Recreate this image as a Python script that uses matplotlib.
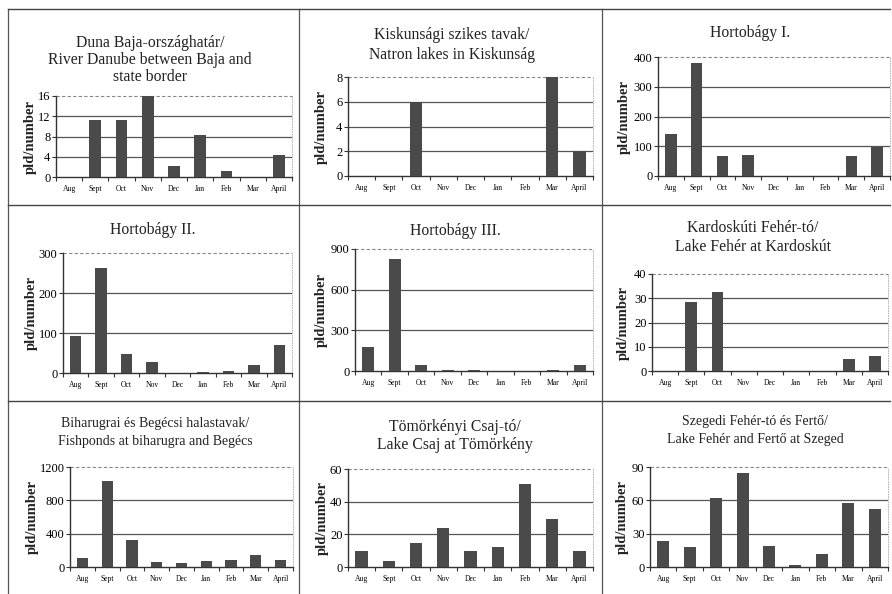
import matplotlib
matplotlib.use("Agg")
import matplotlib.pyplot as plt
from matplotlib.lines import Line2D

plt.rcParams['font.family'] = ['Liberation Serif', 'DejaVu Serif']

months = ["Aug", "Sept", "Oct", "Nov", "Dec", "Jan", "Feb", "Mar", "April"]

titles = [
    "Duna Baja-országhatár/\nRiver Danube between Baja and\nstate border",
    "Kiskunsági szikes tavak/\nNatron lakes in Kiskunság",
    "Hortobágy I.",
    "Hortobágy II.",
    "Hortobágy III.",
    "Kardoskúti Fehér-tó/\nLake Fehér at Kardoskút",
    "Biharugrai és Begécsi halastavak/\nFishponds at biharugra and Begécs",
    "Tömörkényi Csaj-tó/\nLake Csaj at Tömörkény",
    "Szegedi Fehér-tó és Fertő/\nLake Fehér and Fertő at Szeged",
]

duna = [0, 11.2, 11.2, 16, 2.2, 8.2, 1.2, 0, 4.3]
kiskunsag = [0, 0, 6, 0, 0, 0, 0, 8, 2]
hortobagy1 = [140, 380, 67, 72, 0, 0, 0, 67, 97]
hortobagy2 = [93, 263, 48, 28, 0, 3, 6, 20, 70]
hortobagy3 = [175, 825, 45, 8, 5, 2, 2, 10, 42]
kardoskut = [0, 28.5, 32.5, 0, 0, 0, 0, 5, 6]
biharugra = [110, 1030, 330, 60, 50, 70, 85, 150, 80]
tomorkeny = [9.5, 3.5, 15, 24, 10, 12.5, 51, 29.5, 10]
szeged = [23, 18, 62, 85, 19, 2, 12, 58, 52]

series = [duna, kiskunsag, hortobagy1, hortobagy2, hortobagy3,
          kardoskut, biharugra, tomorkeny, szeged]

yticks = [
    [0, 4, 8, 12, 16],
    [0, 2, 4, 6, 8],
    [0, 100, 200, 300, 400],
    [0, 100, 200, 300],
    [0, 300, 600, 900],
    [0, 10, 20, 30, 40],
    [0, 400, 800, 1200],
    [0, 20, 40, 60],
    [0, 30, 60, 90],
]

# layout in pixels: (left, right, top, bottom) of plot area
boxes = [
    (56, 292, 96, 177),
    (348, 593, 77, 176),
    (658, 890, 57, 176),
    (63, 292, 253, 373),
    (355, 593, 249, 371),
    (652, 888, 274, 371),
    (70, 293, 467, 567),
    (348, 593, 469, 567),
    (650, 888, 467, 567),
]
title_pos = [
    (150, [43, 60, 77], 11.3),
    (452, [35, 55], 11.3),
    (750, [33], 11.3),
    (153, [230], 11.3),
    (455, [231], 11.3),
    (753, [228, 247], 11.3),
    (155, [424, 441], 10),
    (455, [427, 445], 11.3),
    (755, [422, 440], 10),
]
ylab_x = [30, 321, 624, 31, 321, 623, 32, 322, 622]

W, H = 892, 594
fig = plt.figure(figsize=(W / 100, H / 100), dpi=100)
fig.patch.set_facecolor('white')

bar_color = '#4a4a4a'

for i in range(9):
    l, r, t, b = boxes[i]
    ax = fig.add_axes([l / W, 1 - b / H, (r - l) / W, (b - t) / H])
    vals = series[i]
    x = list(range(len(months)))
    ax.bar(x, vals, width=0.45, color=bar_color, zorder=3)
    ax.set_xlim(-0.5, len(months) - 0.5)
    ax.set_ylim(0, yticks[i][-1])
    ax.set_yticks(yticks[i])
    ax.set_yticklabels([str(v) for v in yticks[i]], fontsize=9)
    ax.set_xticks(x)
    ax.set_xticklabels(months, fontsize=5.5)
    ax.set_xticks([k + 0.5 for k in range(-1, len(months))], minor=True)
    ax.tick_params(axis='x', which='major', length=0, pad=6)
    ax.tick_params(axis='x', which='minor', length=3, width=0.8, color='#333333')
    ax.tick_params(axis='y', length=3, width=0.8, color='#333333', pad=1)
    for yv in yticks[i][1:-1]:
        ax.axhline(yv, color='#555555', lw=0.9, zorder=1)
    ax.axhline(yticks[i][-1], color='#888888', lw=0.8, ls=(0, (3, 2)), zorder=1, clip_on=False)
    ax.spines['top'].set_visible(False)
    ax.spines['right'].set_linestyle((0, (1, 2)))
    ax.spines['right'].set_color('#aaaaaa')
    ax.spines['right'].set_linewidth(0.6)
    ax.spines['left'].set_color('#333333')
    ax.spines['bottom'].set_color('#333333')
    ax.spines['left'].set_linewidth(1.0)
    ax.spines['bottom'].set_linewidth(1.0)
    ax.set_facecolor('white')

    cx, ys, fs = title_pos[i]
    lines = titles[i].split("\n")
    for line, yy in zip(lines, ys):
        fig.text(cx / W, 1 - yy / H, line, ha='center', va='center',
                 fontsize=fs, color='#222222')
    fig.text(ylab_x[i] / W, 1 - ((t + b) / 2) / H, "pld/number", rotation=90,
             ha='center', va='center', fontsize=10.5, fontweight='bold', color='#222222')

# panel frame lines
for xv in [8, 299, 602]:
    fig.add_artist(Line2D([xv / W, xv / W], [0, 1 - 9 / H], color='#555555', lw=0.9))
for yv in [9, 205, 401]:
    fig.add_artist(Line2D([8 / W, 890 / W], [1 - yv / H, 1 - yv / H], color='#444444', lw=1.0))

fig.savefig("out.png", dpi=100, facecolor='white')
